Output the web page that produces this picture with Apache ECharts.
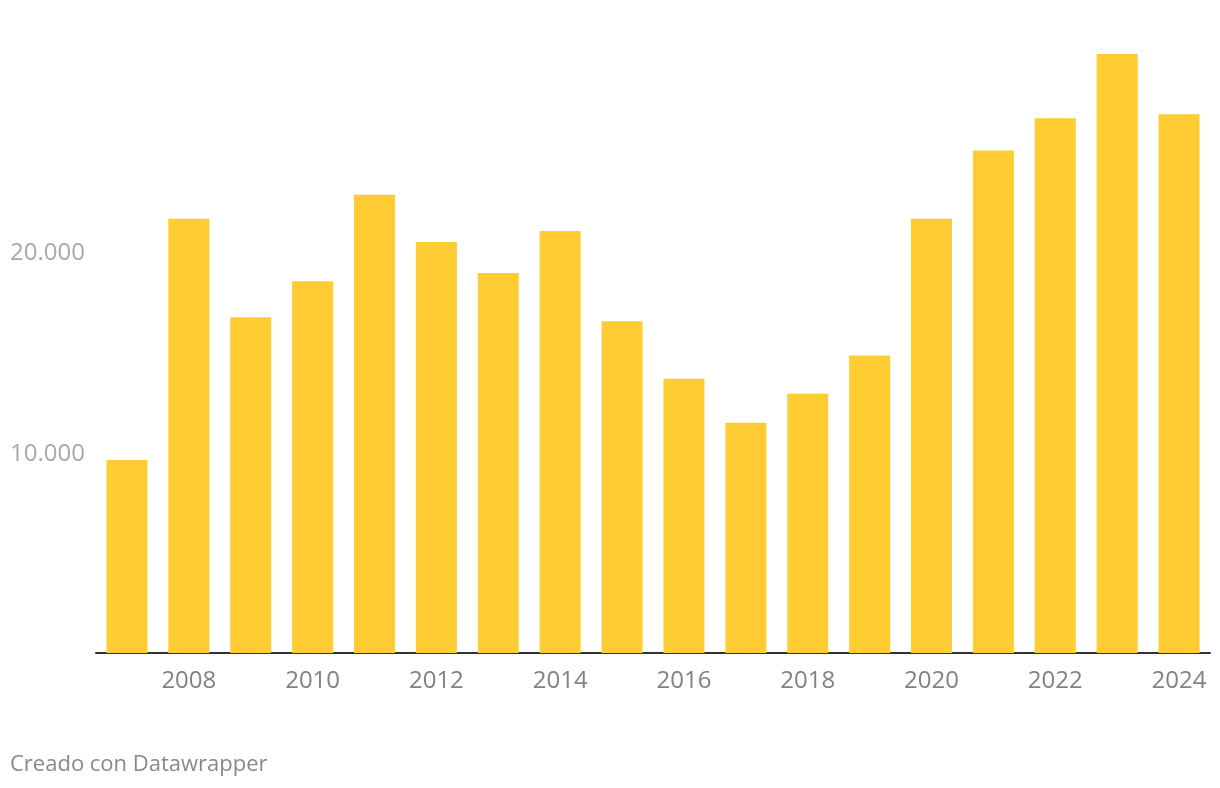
<!DOCTYPE html>
<html>
<head>
<meta charset="utf-8">
<script src="https://cdn.jsdelivr.net/npm/echarts@6/dist/echarts.min.js"></script>
<style>
html,body{margin:0;padding:0;background:#fff;}
#c{width:1220px;height:788px;}
</style>
</head>
<body>
<div id="c"></div>
<script>
const years = ['2007','2008','2009','2010','2011','2012','2013','2014','2015','2016','2017','2018','2019','2020','2021','2022','2023','2024'];
const values = [9600,21600,16700,18500,22800,20450,18900,21000,16500,13650,11450,12900,14800,21600,25000,26600,29800,26800];
const yTicks = [10000,20000];
const footer = 'Creado con Datawrapper';

const chart = echarts.init(document.getElementById('c'));
chart.setOption({
  animation:false,
  grid:{left:96,right:10,top:50,bottom:135},
  xAxis:{
    type:'category',
    data:years,
    axisLine:{lineStyle:{color:'#333',width:2}},
    axisTick:{show:false},
    axisLabel:{
      interval:0,
      formatter:(v,i)=> (i%2===1 ? v : ''),
      color:'#828282',
      fontFamily:'Open Sans',
      fontSize:24,
      margin:16
    }
  },
  yAxis:{
    type:'value',
    min:0,max:30000,interval:10000,
    splitLine:{show:false},
    axisLine:{show:false},
    axisTick:{show:false},
    axisLabel:{
      align:'left',
      margin:86,
      color:'#a8a8a8',
      fontFamily:'Open Sans',
      fontSize:24,
      formatter:v=> yTicks.includes(v) ? '{a|' + v.toLocaleString('de-DE') + '}' : '',
      rich:{a:{color:'#a8a8a8',fontFamily:'Open Sans',fontSize:24,padding:[5,0,0,0]}}
    }
  },
  graphic:[{
    type:'text',left:10,top:754,
    style:{text:footer,fill:'#888',font:'22px "Open Sans"'}
  }],
  series:[{
    type:'bar',
    data:values,
    barWidth:41,
    itemStyle:{color:'#ffcd33'}
  }]
});
</script>
</body>
</html>
